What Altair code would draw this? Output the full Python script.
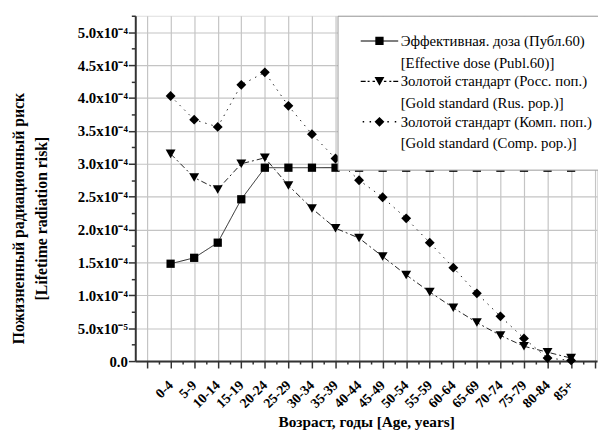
import json
import altair as alt
import pandas as pd

ages = ["0-4", "5-9", "10-14", "15-19", "20-24", "25-29", "30-34", "35-39", "40-44",
        "45-49", "50-54", "55-59", "60-64", "65-69", "70-74", "75-79", "80-84", "85+"]

eff = [1.48e-4, 1.57e-4, 1.80e-4, 2.46e-4, 2.94e-4, 2.94e-4, 2.94e-4, 2.94e-4, 2.94e-4,
       2.94e-4, 2.94e-4, 2.94e-4, 2.94e-4, 2.94e-4, 2.94e-4, 2.94e-4, 2.94e-4, 2.94e-4]
rus = [3.15e-4, 2.79e-4, 2.61e-4, 3.00e-4, 3.09e-4, 2.67e-4, 2.32e-4, 2.02e-4, 1.87e-4,
       1.59e-4, 1.31e-4, 1.05e-4, 0.81e-4, 0.585e-4, 0.39e-4, 0.225e-4, 0.135e-4, 0.045e-4]
comp = [4.03e-4, 3.67e-4, 3.56e-4, 4.20e-4, 4.39e-4, 3.88e-4, 3.45e-4, 3.08e-4, 2.75e-4,
        2.49e-4, 2.17e-4, 1.80e-4, 1.42e-4, 1.03e-4, 0.68e-4, 0.345e-4, 0.045e-4, 0.01e-4]

series_ru = ["Эффективная. доза (Публ.60)",
             "Золотой стандарт (Росс. поп.)",
             "Золотой стандарт (Комп. поп.)"]
series_en = ["[Effective dose (Publ.60)]",
             "[Gold standard (Rus. pop.)]",
             "[Gold standard (Comp. pop.)]"]
marker_shapes = ["square", "triangle-down", "diamond"]
marker_sizes = [70, 100, 100]

y_tick_labels = ["0.0", "5.0x10⁻⁵", "1.0x10⁻⁴", "1.5x10⁻⁴", "2.0x10⁻⁴", "2.5x10⁻⁴",
                 "3.0x10⁻⁴", "3.5x10⁻⁴", "4.0x10⁻⁴", "4.5x10⁻⁴", "5.0x10⁻⁴"]

rows = []
for name, vals in zip(series_ru, [eff, rus, comp]):
    for i, v in enumerate(vals):
        rows.append({"idx": i, "age": ages[i], "series": name, "value": v})
df = pd.DataFrame(rows)

FONT = "Liberation Serif"

x_vals = [i / 2 for i in range(-2, 37)]
x_label_expr = (
    "datum.value >= 0 && datum.value <= 17 && datum.value == floor(datum.value) ? "
    + json.dumps(ages, ensure_ascii=False) + "[datum.value] : ''"
)
y_vals = [round(k * 2.5e-5, 10) for k in range(0, 22)]
y_label_expr = (
    "round(datum.value / 0.000025) % 2 == 0 ? "
    + json.dumps(y_tick_labels, ensure_ascii=False) + "[round(datum.value / 0.00005)] : ''"
)

x_enc = alt.X(
    "idx:Q",
    scale=alt.Scale(domain=[-1.5, 18.1], nice=False, zero=False),
    axis=alt.Axis(
        values=x_vals,
        labelExpr=x_label_expr,
        labelAngle=-45,
        labelAlign="right",
        labelBaseline="middle",
        labelPadding=15,
        labelFont=FONT,
        labelFontSize=14,
        labelFontWeight="bold",
        labelColor="black",
        labelOverlap=False,
        tickSize={"condition": {"test": "datum.value != floor(datum.value)", "value": 3}, "value": 7},
        tickColor="#333",
        tickWidth=1.5,
        gridOpacity={"condition": {"test": "datum.value != floor(datum.value)", "value": 0}, "value": 1},
        gridColor="#c4c4c4",
        gridWidth=1.2,
        domainColor="#333",
        domainWidth=2,
        title="Возраст, годы [Age, years]",
        titleFont=FONT,
        titleFontSize=15.5,
        titleFontWeight="bold",
        titleColor="black",
        titlePadding=4,
    ),
)

y_enc = alt.Y(
    "value:Q",
    scale=alt.Scale(domain=[0, 5.25e-4], nice=False),
    axis=alt.Axis(
        values=y_vals,
        labelExpr=y_label_expr,
        labelFont=FONT,
        labelFontSize=15,
        labelFontWeight="bold",
        labelColor="black",
        labelPadding=1,
        labelOverlap=False,
        tickSize={"condition": {"test": "round(datum.value / 0.000025) % 2 == 1", "value": 4}, "value": 7},
        tickColor="#333",
        tickWidth=1.5,
        gridOpacity={"condition": {"test": "round(datum.value / 0.000025) % 2 == 1", "value": 0}, "value": 1},
        gridColor="#c4c4c4",
        gridWidth=1.2,
        domainColor="#333",
        domainWidth=2,
        title=["Пожизненный радиационный риск", "[Lifetime radiation risk]"],
        titleFont=FONT,
        titleFontSize=16,
        titleFontWeight="bold",
        titleColor="black",
        titleLineHeight=24,
        titlePadding=28,
        titleY=205,
    ),
)


# legend glyphs (unit = 5 px at symbolSize 100): line sample as thin filled bars + marker
def bar(x0, x1, h=0.11):
    return f"M{x0},{-h}L{x1},{-h}L{x1},{h}L{x0},{h}Z"


solid = bar(-3.8, 3.8)
dashdot = "".join(bar(a, b) for a, b in [(-3.8, -2.8), (-2.4, -2.0), (-1.4, -0.9),
                                          (0.9, 1.4), (2.0, 2.4), (2.8, 3.8)])
dotted = "".join(bar(a, a + 0.3, 0.15) for a in [-3.4, -2.0, 1.6, 3.1])
square_m = "M-0.84,-0.84L0.84,-0.84L0.84,0.84L-0.84,0.84Z"
tri_m = "M-1,-0.87L1,-0.87L0,0.87Z"
dia_m = "M0,-1L1,0L0,1L-1,0Z"
glyphs = [solid + square_m, dashdot + tri_m, dotted + dia_m]

shape_expr = (
    "datum.value == " + json.dumps(series_ru[0], ensure_ascii=False) + " ? '" + glyphs[0]
    + "' : datum.value == " + json.dumps(series_ru[1], ensure_ascii=False) + " ? '" + glyphs[1]
    + "' : '" + glyphs[2] + "'"
)
label_expr = (
    "datum.label == " + json.dumps(series_ru[0], ensure_ascii=False) + " ? "
    + json.dumps([series_ru[0], " " + series_en[0]], ensure_ascii=False)
    + " : datum.label == " + json.dumps(series_ru[1], ensure_ascii=False) + " ? "
    + json.dumps([series_ru[1], series_en[1]], ensure_ascii=False)
    + " : " + json.dumps([series_ru[2], series_en[2]], ensure_ascii=False)
)

legend = alt.Legend(
    title=None,
    orient="none",
    legendX=205,
    legendY=0,
    padding=18,
    fillColor="white",
    strokeColor="#999",
    cornerRadius=0,
    labelExpr=label_expr,
    labelFont=FONT,
    labelFontSize=15,
    labelColor="black",
    labelOffset=14,
    labelLimit=0,
    rowPadding=3,
    symbolSize=100,
    symbolOffset=17,
    symbolType={"expr": shape_expr},
    symbolDash=[1, 0],
    symbolFillColor="black",
    symbolStrokeColor="black",
    symbolStrokeWidth=0,
    symbolOpacity=1,
)

lines = alt.Chart(df).mark_line(strokeWidth=1, color="#222").encode(
    x=x_enc,
    y=y_enc,
    strokeDash=alt.StrokeDash(
        "series:N",
        scale=alt.Scale(domain=series_ru, range=[[1, 0], [6, 3, 2, 3], [1.5, 5]]),
        legend=legend,
    ),
)

point_layers = [
    alt.Chart(df)
    .transform_filter(alt.datum.series == name)
    .mark_point(shape=shp, size=sz, filled=True, color="black", opacity=1)
    .encode(x=x_enc, y=y_enc)
    for name, shp, sz in zip(series_ru, marker_shapes, marker_sizes)
]

chart = alt.layer(lines, *point_layers).properties(
    width=468,
    height=350,
    autosize=alt.AutoSizeParams(type="none"),
    padding={"left": 129, "top": 5, "right": 1, "bottom": 68},
).configure_view(
    stroke="#aaa",
    strokeWidth=2,
).configure(
    background="white",
    style={"guide-label": {"lineHeight": 22}},
)

chart.save("out.html", embed_options={"renderer": "svg", "actions": False})
